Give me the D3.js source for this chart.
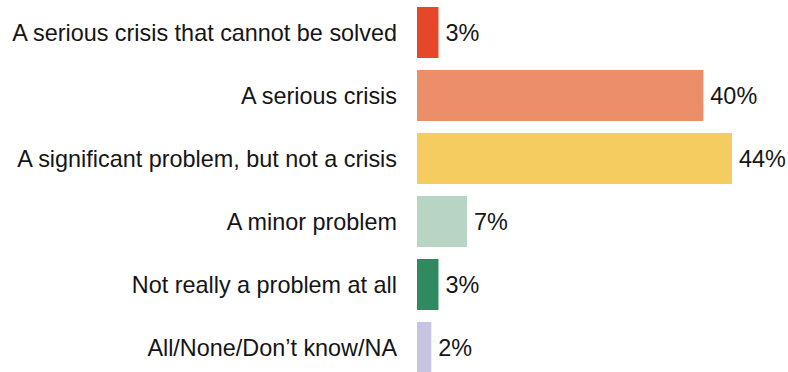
<!DOCTYPE html>
<html><head><meta charset="utf-8">
<script src="https://cdn.jsdelivr.net/npm/d3@7"></script>
<style>body{margin:0;background:#fff;}svg{display:block;}</style>
</head><body>
<svg id="c" width="788" height="372"></svg>
<script>
const categories = ["A serious crisis that cannot be solved","A serious crisis","A significant problem, but not a crisis","A minor problem","Not really a problem at all","All/None/Don\u2019t know/NA"];
const values = [3, 40, 44, 7, 3, 2];
const colors = ["#e6472b","#ec8e6a","#f4cc60","#b7d4c5","#2f8b5f","#c6c4e0"];

const svg = d3.select("#c");
const y = d3.scaleBand().domain(categories).range([7, 373]).paddingInner(12/63).paddingOuter(0);
const x = d3.scaleLinear().domain([0, 44]).range([417, 732]);

svg.selectAll("rect.bar").data(categories).join("rect")
  .attr("class","bar")
  .attr("x", x(0))
  .attr("y", d => y(d))
  .attr("width", (d,i) => x(values[i]) - x(0))
  .attr("height", y.bandwidth())
  .attr("fill", (d,i) => colors[i]);

const font = "'Liberation Sans', Arial, sans-serif";
svg.selectAll("text.cat").data(categories).join("text")
  .attr("class","cat")
  .attr("x", 397)
  .attr("y", d => y(d) + y.bandwidth()/2)
  .attr("dy", "0.35em")
  .attr("text-anchor","end")
  .attr("font-family", font)
  .attr("font-size", 23.4)
  .attr("fill","#151515")
  .text(d => d);

svg.selectAll("text.val").data(categories).join("text")
  .attr("class","val")
  .attr("x", (d,i) => x(values[i]) + 7)
  .attr("y", d => y(d) + y.bandwidth()/2)
  .attr("dy", "0.35em")
  .attr("font-family", font)
  .attr("font-size", 23.4)
  .attr("fill","#151515")
  .text((d,i) => values[i] + "%");
</script>
</body></html>
